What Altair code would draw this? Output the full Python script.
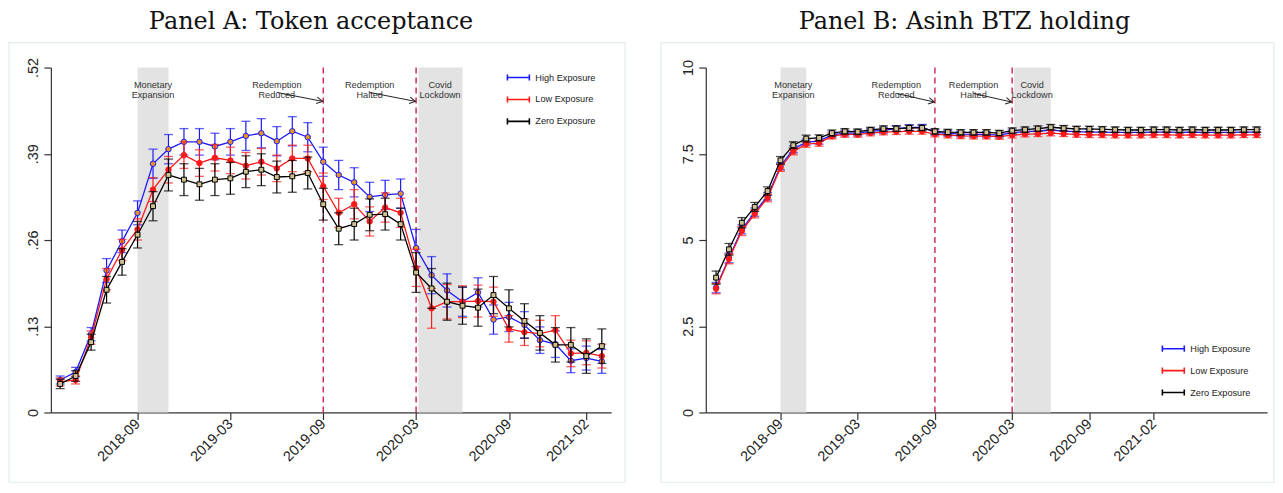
import math
import altair as alt
import pandas as pd

# ---------------- data ----------------
SERIES = ["High Exposure", "Low Exposure", "Zero Exposure"]
LINE_COLORS = ["#1A1AFF", "#FF1A1A", "#000000"]
MARKER_FILLS = ["#E8921E", "#FF1A1A", "#CFC190"]
MARKER_SHAPES = ["circle", "circle", "square"]
MARKER_SIZES = [30, 30, 24]

months_a = [p.strftime("%Y-%m") for p in pd.period_range("2018-04", "2021-03", freq="M")]
months_b = [p.strftime("%Y-%m") for p in pd.period_range("2018-04", "2021-10", freq="M")]

high_a = [0.049, 0.061, 0.118, 0.214, 0.258, 0.301, 0.375, 0.397, 0.408, 0.408, 0.401, 0.408,
          0.417, 0.421, 0.409, 0.424, 0.415, 0.378, 0.358, 0.347, 0.325, 0.328, 0.330, 0.248,
          0.207, 0.184, 0.167, 0.181, 0.140, 0.144, 0.132, 0.109, 0.103, 0.078, 0.082, 0.077]
low_a = [0.046, 0.049, 0.113, 0.201, 0.245, 0.276, 0.336, 0.366, 0.388, 0.376, 0.384, 0.380,
         0.372, 0.378, 0.368, 0.383, 0.383, 0.341, 0.301, 0.314, 0.288, 0.309, 0.301, 0.218,
         0.157, 0.167, 0.167, 0.168, 0.167, 0.126, 0.121, 0.119, 0.124, 0.089, 0.090, 0.085]
zero_a = [0.043, 0.055, 0.106, 0.185, 0.227, 0.268, 0.311, 0.358, 0.351, 0.344, 0.351, 0.353,
          0.363, 0.366, 0.355, 0.356, 0.361, 0.314, 0.277, 0.284, 0.298, 0.299, 0.284, 0.211,
          0.187, 0.167, 0.161, 0.158, 0.177, 0.157, 0.138, 0.120, 0.102, 0.102, 0.085, 0.100]
ci_high_a = [0.006, 0.007, 0.010, 0.018, 0.017, 0.018, 0.022, 0.022, 0.020, 0.020, 0.020, 0.020,
             0.022, 0.022, 0.022, 0.022, 0.022, 0.022, 0.022, 0.022, 0.022, 0.022, 0.022, 0.028,
             0.028, 0.025, 0.022, 0.022, 0.022, 0.022, 0.020, 0.020, 0.020, 0.018, 0.018, 0.018]
ci_low_a = [0.006, 0.006, 0.010, 0.016, 0.016, 0.016, 0.018, 0.020, 0.020, 0.020, 0.020, 0.020,
            0.020, 0.020, 0.020, 0.020, 0.020, 0.020, 0.022, 0.022, 0.022, 0.022, 0.022, 0.028,
            0.030, 0.026, 0.024, 0.024, 0.022, 0.020, 0.020, 0.020, 0.022, 0.020, 0.018, 0.018]
ci_zero_a = [0.007, 0.008, 0.012, 0.020, 0.020, 0.020, 0.022, 0.024, 0.024, 0.024, 0.024, 0.024,
             0.024, 0.024, 0.024, 0.024, 0.024, 0.024, 0.024, 0.024, 0.024, 0.024, 0.024, 0.030,
             0.030, 0.028, 0.028, 0.028, 0.028, 0.028, 0.026, 0.026, 0.026, 0.026, 0.026, 0.026]

high_b = [3.62, 4.48, 5.31, 5.81, 6.27, 7.14, 7.63, 7.84, 7.87, 8.05, 8.10, 8.10, 8.15, 8.18,
          8.23, 8.26, 8.27, 8.12, 8.09, 8.07, 8.06, 8.06, 8.04, 8.11, 8.14, 8.16, 8.19, 8.16,
          8.14, 8.13, 8.13, 8.12, 8.12, 8.12, 8.13, 8.13, 8.12, 8.13, 8.12, 8.12, 8.12, 8.13, 8.13]
low_b = [3.59, 4.45, 5.26, 5.76, 6.22, 7.09, 7.57, 7.78, 7.81, 8.01, 8.06, 8.06, 8.10, 8.13,
         8.14, 8.15, 8.15, 8.07, 8.04, 8.02, 8.01, 8.01, 8.00, 8.04, 8.07, 8.08, 8.10, 8.08,
         8.06, 8.05, 8.05, 8.04, 8.04, 8.04, 8.05, 8.05, 8.04, 8.05, 8.04, 8.04, 8.04, 8.05, 8.05]
zero_b = [3.91, 4.73, 5.50, 5.96, 6.42, 7.31, 7.75, 7.94, 7.96, 8.10, 8.15, 8.14, 8.19, 8.23,
          8.23, 8.25, 8.25, 8.15, 8.13, 8.12, 8.12, 8.12, 8.10, 8.17, 8.20, 8.23, 8.27, 8.24,
          8.22, 8.22, 8.21, 8.20, 8.19, 8.19, 8.20, 8.20, 8.19, 8.20, 8.19, 8.19, 8.19, 8.20, 8.20]
ci_high_b = [0.15, 0.14, 0.13, 0.12, 0.11, 0.10, 0.10, 0.09, 0.09, 0.08, 0.08, 0.08, 0.08, 0.08,
             0.08, 0.08, 0.08, 0.08, 0.08, 0.08, 0.08, 0.08, 0.08, 0.08, 0.08, 0.08, 0.08, 0.08,
             0.08, 0.08, 0.08, 0.08, 0.08, 0.08, 0.08, 0.08, 0.08, 0.08, 0.08, 0.08, 0.08, 0.08, 0.08]
ci_low_b = [0.15, 0.14, 0.13, 0.12, 0.11, 0.10, 0.10, 0.09, 0.09, 0.08, 0.08, 0.08, 0.08, 0.08,
            0.08, 0.08, 0.08, 0.08, 0.08, 0.08, 0.08, 0.08, 0.08, 0.08, 0.08, 0.08, 0.08, 0.08,
            0.08, 0.08, 0.08, 0.08, 0.08, 0.08, 0.08, 0.08, 0.08, 0.08, 0.08, 0.08, 0.08, 0.08, 0.08]
ci_zero_b = [0.19, 0.17, 0.15, 0.13, 0.12, 0.11, 0.10, 0.10, 0.09, 0.09, 0.08, 0.08, 0.08, 0.08,
             0.08, 0.08, 0.08, 0.08, 0.08, 0.08, 0.08, 0.08, 0.08, 0.08, 0.08, 0.08, 0.08, 0.08,
             0.08, 0.08, 0.08, 0.08, 0.08, 0.08, 0.08, 0.08, 0.08, 0.08, 0.08, 0.08, 0.08, 0.08, 0.08]

x_tick_values = [8, 14, 20, 26, 32, 37]          # 2018-09 ... 2021-02 (months since 2018-01)
y_ticks_a = [0, 0.13, 0.26, 0.39, 0.52]
y_ticks_b = [0, 2.5, 5, 7.5, 10]

shade_start = [8, 26.15]
shade_end = [10, 29]
event_lines = [20, 26]
annot_labels = [["Monetary", "Expansion"], ["Redemption", "Reduced"],
                ["Redemption", "Halted"], ["Covid", "Lockdown"]]
annot_x = [9, 17, 23, 27.55]
arrow_x = [17.0, 23.0]
arrow_x2 = [19.96, 25.96]

# ---------------- style ----------------
FONT = "Liberation Sans"
AX = "#333333"
DASH = "#C8224F"
SHADE = "#E3E3E3"
FRAME = "#E2EBEE"
ARROW_PATH = "M-1,-0.55L0,0L-1,0.55"
LEGEND_PATH = "M-1,0H1M-1,-0.28V0.28M1,-0.28V0.28"
MONTH_EXPR = ("toString(2018 + floor(datum.value / 12)) + '-' + "
              "(datum.value % 12 < 9 ? '0' : '') + toString(datum.value % 12 + 1)")


def month_index(s):
    y, m = s.split("-")
    return (int(y) - 2018) * 12 + int(m) - 1


def panel(months, vals, cis, ydom, yticks, ylabel_expr, xdom, W, H, legend_y,
          text_y, arrow_y, arrow_y2, title, title_dx, frame_x0, frame_x1):
    mi = [month_index(s) for s in months]
    xs = alt.Scale(domain=xdom, nice=False, zero=False)
    ys = alt.Scale(domain=ydom, nice=False, zero=False)
    xaxis = alt.Axis(values=x_tick_values, labelExpr=MONTH_EXPR, title=None, grid=False,
                     labelAngle=-45, labelAlign="right", labelBaseline="middle",
                     labelFont=FONT, labelFontSize=14.5, labelColor="#222222", labelPadding=2,
                     tickSize=7, tickColor=AX, domainColor=AX, tickWidth=1.2, domainWidth=1.2,
                     labelOverlap=False, labelFlush=False, labelBound=False)
    yaxis = alt.Axis(values=yticks, labelExpr=ylabel_expr, title=None, grid=False,
                     labelAngle=-90, labelAlign="center", labelBaseline="bottom",
                     labelFont=FONT, labelFontSize=14.5, labelColor="#222222", labelPadding=3,
                     tickSize=7, tickColor=AX, domainColor=AX, tickWidth=1.2, domainWidth=1.2,
                     labelOverlap=False, labelFlush=False, labelBound=False)

    def X(f):
        return alt.X(f, type="quantitative", scale=xs, axis=xaxis)

    def Y(f):
        return alt.Y(f, type="quantitative", scale=ys, axis=yaxis)

    legend = alt.Legend(title=None, orient="none", legendX=457, legendY=legend_y,
                        symbolType=LEGEND_PATH, symbolSize=484, symbolStrokeWidth=1.6,
                        symbolFillColor="transparent", labelFont=FONT, labelFontSize=9.2,
                        labelColor="#222222", labelOffset=5, rowPadding=3, padding=0)

    layers = []
    layers.append(
        alt.Chart(pd.DataFrame({"k": [0]})).mark_rect(
            fill="transparent", stroke=FRAME, strokeWidth=1.2
        ).encode(x=alt.value(frame_x0), x2=alt.value(frame_x1), y=alt.value(-25), y2=alt.value(416))
    )
    shade_df = pd.DataFrame({"x0": shade_start, "x1": shade_end,
                             "y0": [ydom[0]] * 2, "y1": [ydom[1]] * 2})
    layers.append(alt.Chart(shade_df).mark_rect(color=SHADE).encode(
        x=X("x0"), x2="x1", y=Y("y0"), y2="y1"))
    layers.append(alt.Chart(pd.DataFrame({"x": event_lines})).mark_rule(
        color=DASH, strokeDash=[6, 4], strokeWidth=1.4).encode(x=X("x")))

    for s, v, c, lc, fc, shp, msz in zip(SERIES, vals, cis, LINE_COLORS, MARKER_FILLS,
                                         MARKER_SHAPES, MARKER_SIZES):
        df = pd.DataFrame({"m": mi, "v": v,
                           "lo": [a - b for a, b in zip(v, c)],
                           "hi": [a + b for a, b in zip(v, c)],
                           "series": s})
        base = alt.Chart(df)
        layers.append(base.mark_rule(color=lc, strokeWidth=1.2).encode(x=X("m"), y=Y("lo"), y2="hi"))
        layers.append(base.mark_tick(color=lc, orient="horizontal", size=9, thickness=1.3).encode(
            x=X("m"), y=Y("lo")))
        layers.append(base.mark_tick(color=lc, orient="horizontal", size=9, thickness=1.3).encode(
            x=X("m"), y=Y("hi")))
        layers.append(base.mark_line(strokeWidth=1.3).encode(
            x=X("m"), y=Y("v"),
            color=alt.Color("series:N", scale=alt.Scale(domain=SERIES, range=LINE_COLORS),
                            legend=legend)))
        layers.append(base.mark_point(shape=shp, filled=True, fill=fc, stroke=lc, strokeWidth=1,
                                      size=msz, opacity=1).encode(x=X("m"), y=Y("v")))

    text_df = pd.DataFrame({"x": annot_x, "y": [text_y] * 4, "label": annot_labels})
    layers.append(alt.Chart(text_df).mark_text(
        font=FONT, fontSize=9.2, color="#333333", lineHeight=10, baseline="middle", align="center"
    ).encode(x=X("x"), y=Y("y"), text="label"))

    arr_df = pd.DataFrame({"x": arrow_x, "x2": arrow_x2, "y": [arrow_y] * 2, "y2": [arrow_y2] * 2})
    px_x = W / (xdom[1] - xdom[0])
    px_y = H / (ydom[1] - ydom[0])
    ang = math.degrees(math.atan2((arrow_y - arrow_y2) * px_y, (arrow_x2[0] - arrow_x[0]) * px_x))
    layers.append(alt.Chart(arr_df).mark_rule(color="#222222", strokeWidth=1).encode(
        x=X("x"), y=Y("y"), x2="x2", y2="y2"))
    layers.append(alt.Chart(arr_df).mark_point(
        shape=ARROW_PATH, filled=False, stroke="#222222", strokeWidth=1, size=144, opacity=1,
        angle=ang).encode(x=X("x2"), y=Y("y2")))

    return alt.layer(*layers).properties(
        width=W, height=H,
        title=alt.TitleParams(text=title, font="DejaVu Serif", fontSize=24, fontWeight="normal",
                              color="#111111", anchor="middle", frame="group", baseline="bottom",
                              offset=-16, dx=title_dx))


pa = panel(months_a, [high_a, low_a, zero_a], [ci_high_a, ci_low_a, ci_zero_a],
           [0, 0.52], y_ticks_a,
           "datum.value == 0 ? '0' : substring(format(datum.value, '.2f'), 1)",
           [2.4, 38.6], 562, 346, -2, 0.493, 0.4825, 0.469,
           "Panel A: Token acceptance", -20, -42, 576)
pb = panel(months_b, [high_b, low_b, zero_b], [ci_high_b, ci_low_b, ci_zero_b],
           [0, 10], y_ticks_b, "format(datum.value, '~g')",
           [2.2, 45.8], 563, 346, 270, 9.48, 9.25, 9.0,
           "Panel B: Asinh BTZ holding", -22, -45, 570)

chart = alt.hconcat(pa, pb, spacing=34).resolve_scale(
    color="independent", x="independent", y="independent"
).configure_view(stroke=None).properties(
    padding={"left": 0, "right": 0, "top": 1, "bottom": 0},
    background="white")

chart.save("out.html", embed_options={"renderer": "svg", "actions": False})
